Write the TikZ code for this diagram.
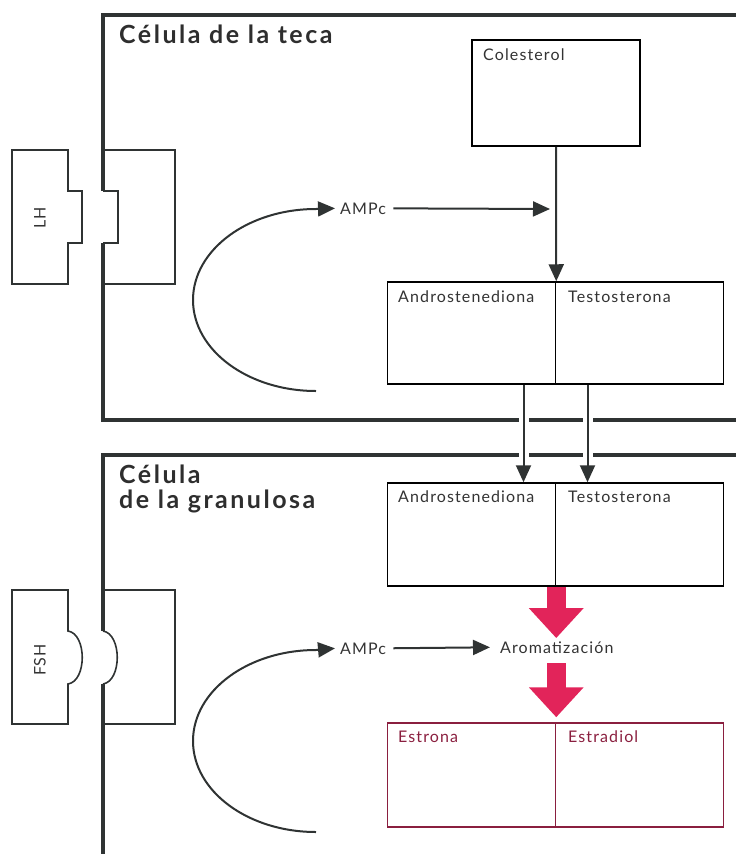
\documentclass[tikz,border=0pt]{standalone}
\usepackage{fontspec}
\setmainfont{Lato}
\newfontfamily\lblfont[LetterSpace=7]{Lato}
\newfontfamily\ttlfont[LetterSpace=10]{Lato Bold}
\usetikzlibrary{arrows.meta,positioning}
\definecolor{wallgray}{HTML}{2F3333}
\definecolor{aromred}{HTML}{E2245A}
\definecolor{estrred}{HTML}{8A1F3F}
\tikzset{
  wall/.style={line width=4pt, draw=wallgray},
  recep/.style={line width=1.6pt, draw=wallgray},
  box/.style={draw=black, line width=1.5pt, minimum width=168pt, minimum height=102pt, inner sep=0pt},
  ebox/.style={box, draw=estrred},
  lbl/.style={font=\lblfont\fontsize{16}{18}\selectfont, text=black!80, inner sep=0pt, anchor=base west},
  ttl/.style={font=\ttlfont\fontsize{25}{25}\selectfont, text=black!82, inner sep=0pt, align=left},
  arr/.style={line width=2pt, draw=wallgray, -{Triangle[length=17pt,width=15pt]}},
  bigarr/.style={line width=19pt, draw=aromred, -{Triangle[length=30pt,width=53pt]}},
  gap/.style={preaction={draw=white, line width=10pt, -, shorten <=20pt, shorten >=20pt}}
}
\begin{document}
\begin{tikzpicture}[x=1pt, y=-1pt]
\useasboundingbox (0,0) rectangle (736,854);
% cell walls
\draw[wall] (736,15) -- (103,15) -- (103,191);
\draw[wall] (103,243) -- (103,420) -- (736,420);
\draw[wall] (736,455) -- (103,455) -- (103,631);
\draw[wall] (103,684) -- (103,854);
% receptors
\draw[recep] (103,150) -- (175,150) -- (175,284) -- (103,284);
\draw[recep] (103,191) -- (118,191) -- (118,243) -- (103,243);
\draw[recep] (68,150) -- (12,150) -- (12,284) -- (68,284) -- (68,243) -- (82,243) -- (82,191) -- (68,191) -- cycle;
\draw[recep] (103,590) -- (175,590) -- (175,724) -- (103,724);
\draw[recep] (103,631) .. controls (122,634) and (122,681) .. (103,684);
\draw[recep] (68,590) -- (12,590) -- (12,724) -- (68,724) -- (68,684) .. controls (87,681) and (87,634) .. (68,631) -- cycle;
\node[lbl, anchor=center, rotate=90] (lh) at (40,218) {LH};
\node[lbl, anchor=center, rotate=90] (fsh) at (40,660) {FSH};
% titles
\node[ttl, anchor=base west] (teca) at (119,43) {Célula de la teca};
\node[ttl, anchor=north west] (gran) at (119,465) {Célula\\de la granulosa};
% boxes
\node[box, minimum height=106pt] (col) at (556,93) {};
\node[lbl] (colt) at (483,60) {Colesterol};
\node[box] (andA) at (471.5,333) {};
\node[box] (tesA) at (639.5,333) {};
\node[lbl] (andAt) at (398,302) {Androstenediona};
\node[lbl] (tesAt) at (568,302) {Testosterona};
\node[box, minimum height=103pt] (andB) at (471.5,534.5) {};
\node[box, minimum height=103pt] (tesB) at (639.5,534.5) {};
\node[lbl] (andBt) at (398,502) {Androstenediona};
\node[lbl] (tesBt) at (568,502) {Testosterona};
\node[ebox, minimum height=104pt] (estr) at (471.5,775) {};
\node[ebox, minimum height=104pt] (estd) at (639.5,775) {};
\node[lbl, text=estrred] (estrt) at (398,742) {Estrona};
\node[lbl, text=estrred] (estdt) at (568,742) {Estradiol};
% AMPc
\node[lbl] (ampA) at (340,214) {AMPc};
\node[lbl] (ampB) at (340,654) {AMPc};
\node[lbl] (aro) at (500,653) {Aromatización};
\coordinate (jA) at (550,209);
\coordinate (cA) at (316,391);
\coordinate (cB) at (316,832);
% arrows
\draw[arr] (col.south) -- (andA.north east);
\draw[arr, shorten <=7pt] (ampA.east) -- (jA);
\draw[arr] (cA) arc[start angle=90, end angle=270, x radius=123, y radius=91] -- ([xshift=-5pt]ampA.west);
\draw[arr] (cB) arc[start angle=90, end angle=270, x radius=123, y radius=91] -- ([xshift=-5pt]ampB.west);
\draw[arr, shorten <=7pt, shorten >=10pt] (ampB.east) -- (aro.west);
\draw[arr, gap] ([xshift=52pt]andA.south) -- ([xshift=52pt]andB.north);
\draw[arr, gap] ([xshift=-52pt]tesA.south) -- ([xshift=-52pt]tesB.north);
\draw[bigarr, shorten >=3pt] (andB.south east) -- (andB.south east |- aro.north);
\draw[bigarr, shorten <=10pt, shorten >=5pt] (andB.south east |- aro.south) -- (estr.north east);
\end{tikzpicture}
\end{document}
